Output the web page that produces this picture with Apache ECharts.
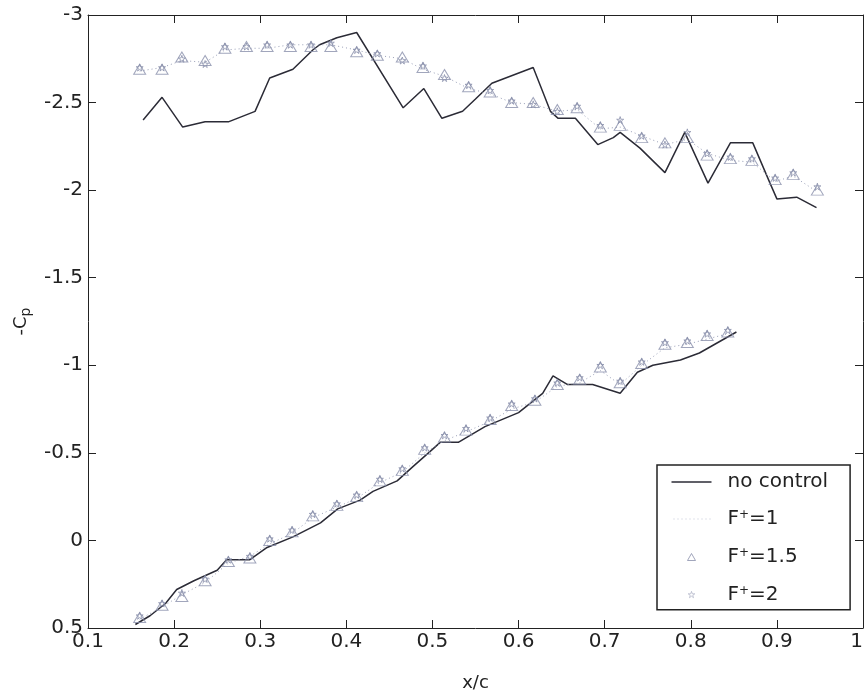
<!DOCTYPE html>
<html>
<head>
<meta charset="utf-8">
<script src="https://cdn.jsdelivr.net/npm/echarts@6/dist/echarts.min.js"></script>
<style>html,body{margin:0;padding:0;background:#fff;}#c{width:865px;height:694px;}</style>
</head>
<body>
<div id="c"></div>
<script>
// ---- data ----
const xTicks = [0.1, 0.2, 0.3, 0.4, 0.5, 0.6, 0.7, 0.8, 0.9, 1];
const yTicks = [-3, -2.5, -2, -1.5, -1, -0.5, 0, 0.5];

// measurement stations (upper / lower surface)
const upperX = [0.16,0.186,0.209,0.236,0.259,0.284,0.308,0.335,0.359,0.382,0.412,0.436,0.465,0.489,0.514,0.542,0.567,0.592,0.617,0.645,0.668,0.695,0.718,0.743,0.77,0.796,0.819,0.846,0.871,0.898,0.919,0.947];
const lowerX = [0.16,0.186,0.209,0.236,0.263,0.288,0.311,0.337,0.361,0.389,0.412,0.439,0.465,0.491,0.514,0.539,0.567,0.592,0.619,0.645,0.671,0.695,0.718,0.743,0.77,0.796,0.819,0.843];

// no control (solid line)
const upperNoControlX = [0.164,0.186,0.21,0.236,0.263,0.294,0.311,0.338,0.361,0.369,0.389,0.412,0.466,0.49,0.511,0.535,0.55,0.569,0.617,0.637,0.646,0.666,0.692,0.71,0.718,0.741,0.77,0.793,0.82,0.846,0.872,0.892,0.9,0.923,0.946];
const upperNoControl = [-2.40,-2.53,-2.36,-2.39,-2.39,-2.45,-2.64,-2.69,-2.80,-2.83,-2.87,-2.90,-2.47,-2.58,-2.41,-2.45,-2.52,-2.61,-2.70,-2.45,-2.41,-2.41,-2.26,-2.30,-2.33,-2.24,-2.10,-2.33,-2.04,-2.27,-2.27,-2.04,-1.95,-1.96,-1.90];
const lowerNoControlX = [0.155,0.172,0.19,0.203,0.223,0.25,0.261,0.288,0.308,0.338,0.37,0.39,0.416,0.431,0.459,0.477,0.5,0.509,0.53,0.561,0.6,0.628,0.64,0.657,0.686,0.718,0.738,0.756,0.788,0.81,0.853];
const lowerNoControl = [0.48,0.43,0.36,0.28,0.23,0.17,0.11,0.11,0.04,-0.02,-0.10,-0.18,-0.23,-0.28,-0.34,-0.42,-0.52,-0.56,-0.56,-0.65,-0.73,-0.84,-0.94,-0.89,-0.89,-0.84,-0.96,-1.00,-1.03,-1.07,-1.19];

// F+=1 (dotted line)
const upperF1 = [-2.68,-2.70,-2.74,-2.73,-2.80,-2.81,-2.81,-2.83,-2.83,-2.83,-2.80,-2.77,-2.75,-2.69,-2.65,-2.58,-2.55,-2.50,-2.49,-2.45,-2.46,-2.35,-2.36,-2.31,-2.26,-2.29,-2.21,-2.17,-2.16,-2.05,-2.08,-1.99];
const lowerF1 = [0.45,0.38,0.31,0.24,0.13,0.09,0.02,-0.04,-0.13,-0.19,-0.24,-0.33,-0.39,-0.50,-0.57,-0.62,-0.68,-0.75,-0.79,-0.88,-0.90,-0.97,-0.89,-1.00,-1.10,-1.12,-1.15,-1.18];

// F+=1.5 (triangles)
const upperF15 = [-2.69,-2.69,-2.76,-2.74,-2.81,-2.82,-2.82,-2.82,-2.82,-2.82,-2.79,-2.77,-2.76,-2.70,-2.66,-2.59,-2.56,-2.50,-2.50,-2.46,-2.47,-2.36,-2.37,-2.30,-2.27,-2.30,-2.20,-2.18,-2.17,-2.06,-2.09,-2.00];
const lowerF15 = [0.44,0.37,0.32,0.23,0.12,0.10,0.00,-0.05,-0.14,-0.20,-0.25,-0.34,-0.40,-0.52,-0.59,-0.63,-0.69,-0.77,-0.80,-0.89,-0.92,-0.99,-0.90,-1.01,-1.12,-1.13,-1.17,-1.19];

// F+=2 (stars)
const upperF2 = [-2.70,-2.70,-2.75,-2.72,-2.82,-2.82,-2.83,-2.83,-2.83,-2.84,-2.80,-2.78,-2.74,-2.71,-2.64,-2.60,-2.57,-2.51,-2.49,-2.45,-2.48,-2.37,-2.40,-2.31,-2.26,-2.33,-2.21,-2.19,-2.18,-2.07,-2.10,-2.02];
const lowerF2 = [0.43,0.36,0.30,0.22,0.11,0.09,-0.01,-0.06,-0.15,-0.21,-0.26,-0.35,-0.41,-0.53,-0.60,-0.64,-0.70,-0.78,-0.81,-0.90,-0.93,-1.00,-0.91,-1.02,-1.13,-1.14,-1.18,-1.20];

const seriesNames = ['no control', 'F+=1', 'F+=1.5', 'F+=2'];

// ---- build chart ----
const pairs = (xs, ys) => xs.map((x, i) => [x, ys[i]]);
const FONT = 'DejaVu Sans';
const AXIS = '#222';
const LINE = '#2b2b36';
const MARK = '#8a90ab';
const STAR = 'path://M50,0 L61,35 L98,35 L68,57 L79,91 L50,70 L21,91 L32,57 L2,35 L39,35 Z';

// legend icons: paths padded to the 40x20 legend item box (M-points fix the box)
const BOX = 'M0,0 M40,20 ';
const ICON_LINE = 'path://' + BOX + 'M0,9.3 L40,9.3 L40,10.7 L0,10.7 Z';
let dots = '';
for (let i = 2; i < 40; i += 4) dots += 'M' + i + ',9.5 L' + (i + 1) + ',9.5 L' + (i + 1) + ',10.5 L' + i + ',10.5 Z ';
const ICON_DOTS = 'path://' + BOX + dots;
const ICON_TRI = 'path://' + BOX + 'M16,14 L24,14 L20,7 Z';
const ICON_STAR = 'path://' + BOX + 'M20,7 L20.8,9.4 L23.3,9.4 L21.3,10.9 L22,13.3 L20,11.8 L18,13.3 L18.7,10.9 L16.7,9.4 L19.2,9.4 Z';

function lineSeries(name, data, style) {
  return {name, type: 'line', data, symbol: 'none', showSymbol: false, silent: true,
          animation: false, lineStyle: style, itemStyle: {color: style.color}, z: 3};
}
function markSeries(name, data, symbol, size, z) {
  return {name, type: 'scatter', data, symbol, symbolSize: size, silent: true, animation: false,
          itemStyle: {color: 'rgba(0,0,0,0)', borderColor: MARK, borderWidth: 1}, z};
}

const solid = {color: LINE, width: 1.5, type: 'solid'};
const dotted = {color: '#9aa0b8', width: 1, type: [1, 3]};

const chart = echarts.init(document.getElementById('c'), null, {renderer: 'canvas'});
const axisCommon = {
  type: 'value',
  axisLine: {show: true, onZero: false, lineStyle: {color: AXIS, width: 1}},
  axisTick: {show: true, inside: true, length: 8, lineStyle: {color: AXIS}},
  splitLine: {show: false}
};
chart.setOption({
  animation: false,
  backgroundColor: '#fff',
  grid: {left: 88, right: 2, top: 15, bottom: 66, containLabel: false, outerBoundsMode: 'none'},
  xAxis: [
    Object.assign({}, axisCommon, {
      min: xTicks[0], max: xTicks[xTicks.length - 1], interval: 0.1, position: 'bottom',
      axisLabel: {show: true, fontFamily: FONT, fontSize: 20, color: AXIS, margin: 4, alignMaxLabel: 'right',
                  formatter: v => { const t = xTicks.find(k => Math.abs(k - v) < 1e-9); return t === undefined ? '' : String(t); }},
      name: 'x/c', nameLocation: 'middle', nameGap: 46,
      nameTextStyle: {fontFamily: FONT, fontSize: 18, color: AXIS}
    }),
    Object.assign({}, axisCommon, {
      min: xTicks[0], max: xTicks[xTicks.length - 1], interval: 0.1, position: 'top',
      axisLabel: {show: false}
    })
  ],
  yAxis: [
    Object.assign({}, axisCommon, {
      min: yTicks[0], max: yTicks[yTicks.length - 1], interval: 0.5, inverse: true, position: 'left',
      axisLabel: {show: true, fontFamily: FONT, fontSize: 20, color: AXIS, margin: 5,
                  formatter: v => { const t = yTicks.find(k => Math.abs(k - v) < 1e-9); return t === undefined ? '' : String(t); }},
      name: '-C{sub|p}', nameLocation: 'middle', nameGap: 54, nameRotate: 90,
      nameTextStyle: {fontFamily: FONT, fontSize: 18, color: AXIS,
        rich: {sub: {fontFamily: FONT, fontSize: 14, color: AXIS, verticalAlign: 'bottom', padding: [10, 0, 0, 0]}}}
    }),
    Object.assign({}, axisCommon, {
      min: yTicks[0], max: yTicks[yTicks.length - 1], interval: 0.5, inverse: true, position: 'right',
      axisLabel: {show: false}
    })
  ],
  legend: {
    show: true,
    data: [
      {name: seriesNames[0], icon: ICON_LINE, itemStyle: {color: LINE, borderWidth: 0}},
      {name: seriesNames[1], icon: ICON_DOTS, itemStyle: {color: '#c4c8d6', borderWidth: 0}},
      {name: seriesNames[2], icon: ICON_TRI, itemStyle: {color: 'rgba(0,0,0,0)', borderColor: MARK, borderWidth: 1}},
      {name: seriesNames[3], icon: ICON_STAR, itemStyle: {color: 'rgba(0,0,0,0)', borderColor: '#a4a9bf', borderWidth: 0.8}}
    ],
    orient: 'vertical',
    left: 657, top: 465,
    padding: [7, 22, 5, 14],
    itemGap: 17,
    itemWidth: 40, itemHeight: 20,
    backgroundColor: '#fff',
    borderColor: '#222', borderWidth: 1.5, borderRadius: 0,
    selectedMode: false,
    textStyle: {fontFamily: FONT, fontSize: 20, color: AXIS, padding: [0, 0, 0, 11],
      rich: {sup: {fontFamily: FONT, fontSize: 12, color: AXIS, verticalAlign: 'top', padding: [0, 0, 8, 0]}}},
    formatter: n => n.startsWith('F+') ? 'F{sup|+}' + n.slice(2) : n
  },
  series: [
    lineSeries('no control', pairs(upperNoControlX, upperNoControl), solid),
    lineSeries('no control', pairs(lowerNoControlX, lowerNoControl), solid),
    lineSeries('F+=1', pairs(upperX, upperF1), dotted),
    lineSeries('F+=1', pairs(lowerX, lowerF1), dotted),
    markSeries('F+=1.5', pairs(upperX, upperF15), 'triangle', [12, 10], 4),
    markSeries('F+=1.5', pairs(lowerX, lowerF15), 'triangle', [12, 10], 4),
    markSeries('F+=2', pairs(upperX, upperF2), STAR, 7, 5),
    markSeries('F+=2', pairs(lowerX, lowerF2), STAR, 7, 5)
  ]
});
</script>
</body>
</html>
